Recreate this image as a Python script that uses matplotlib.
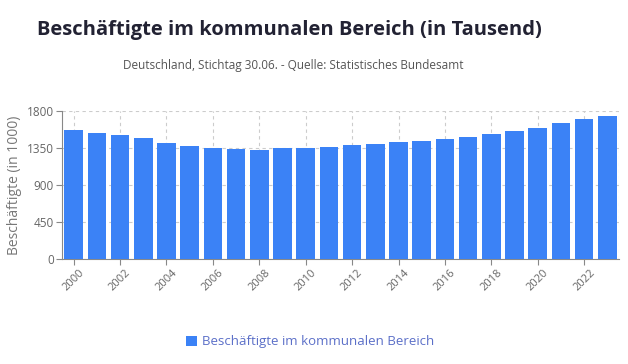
import matplotlib
matplotlib.use("Agg")
import matplotlib.pyplot as plt
from matplotlib.patches import Patch

years = list(range(2000, 2024))
values = [1568, 1532, 1511, 1475, 1410, 1369, 1353, 1341, 1329, 1345, 1349,
          1361, 1381, 1402, 1422, 1434, 1459, 1483, 1516, 1552, 1593, 1654, 1698, 1735]
yticks = [0, 450, 900, 1350, 1800]
title = "Beschäftigte im kommunalen Bereich (in Tausend)"
subtitle = "Deutschland, Stichtag 30.06. - Quelle: Statistisches Bundesamt"
ylabel = "Beschäftigte (in 1000)"
series_name = "Beschäftigte im kommunalen Bereich"

plt.rcParams['font.family'] = ['Open Sans', 'DejaVu Sans']
bar_color = '#3b82f6'

fig = plt.figure(figsize=(6.28, 3.64), dpi=100)
ax = fig.add_axes([62/628, 1-259/364, (619-62)/628, (259-111)/364])

x = list(range(len(years)))
ax.bar(x, values, width=0.8, color=bar_color, zorder=3)
ax.set_xlim(-0.5, len(years)-0.5)
ax.set_ylim(0, 1800)
ax.set_yticks(yticks)
ax.set_yticklabels([str(v) for v in yticks], fontsize=8.5, color='#666666')
tick_pos = [i for i, y in enumerate(years) if y % 2 == 0]
ax.set_xticks(tick_pos)
ax.set_xticklabels([str(years[i]) for i in tick_pos], rotation=45, fontsize=8,
                   color='#666666', ha='center', rotation_mode='default')
ax.grid(True, axis='both', color='#cccccc', linestyle=(0, (3, 3)), linewidth=0.8, zorder=0)
for s in ['top', 'right']:
    ax.spines[s].set_visible(False)
ax.axvline(len(years)-0.5, color='#cccccc', linestyle=(0, (3, 3)), linewidth=0.8, zorder=0)
ax.spines['left'].set_color('#888888')
ax.spines['bottom'].set_color('#888888')
ax.tick_params(axis='both', length=4, color='#888888', pad=2)
ax.set_ylabel(ylabel, fontsize=10, color='#777777', labelpad=3)

fig.text(37/628, 1-30/364, title, fontsize=14.5, fontweight='bold', color='#222233',
         ha='left', va='center')
fig.text(293/628, 1-65/364, subtitle, fontsize=8.5, color='#555555', ha='center', va='center')

handles = [Patch(facecolor=bar_color, label=series_name)]
leg = fig.legend(handles=handles, loc='center', bbox_to_anchor=(310/628, 1-342/364),
                 frameon=False, fontsize=9.5, handlelength=0.8, handleheight=0.8,
                 handletextpad=0.4)
for t in leg.get_texts():
    t.set_color('#5b6fc8')

fig.savefig('out.png', dpi=100)
